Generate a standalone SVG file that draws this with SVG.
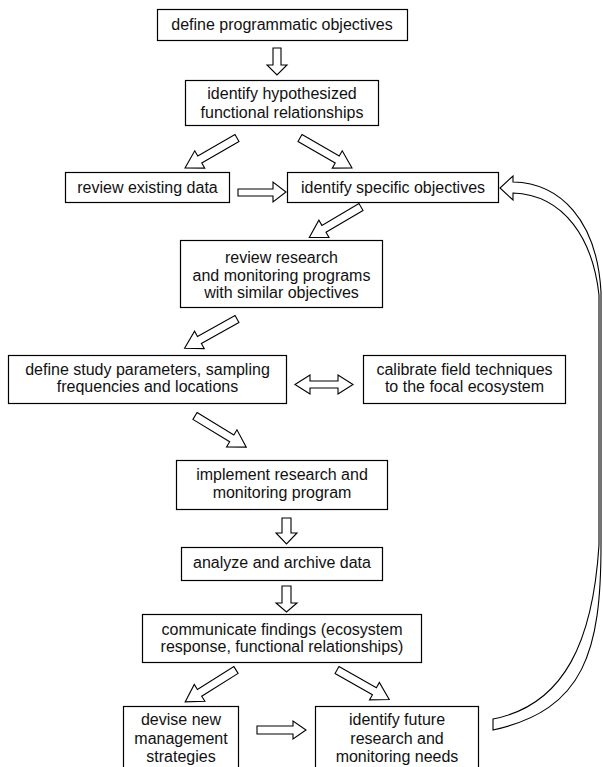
<svg xmlns="http://www.w3.org/2000/svg" xmlns:xlink="http://www.w3.org/1999/xlink" width="603" height="767" viewBox="0 0 603 767">
<style>
.box{fill:#fff;stroke:#000;stroke-width:1.2}
.t{font-family:"Liberation Sans",Arial,sans-serif;font-size:16px;fill:#111;text-anchor:middle}
.arr{fill:#fff;stroke:#000;stroke-width:1.1;stroke-linejoin:miter}
</style>
<defs>
<polygon id="diag" points="0,-4 43,-4 43,-10 60,0 43,10 43,4 0,4"/>
</defs>
<rect width="603" height="767" fill="#fff"/>
<g id="connectors">
<polygon class="arr" points="273,48 281,48 281,65 287,65 277,75 267,65 273,65"/>
<use xlink:href="#diag" class="arr" transform="translate(237,138) rotate(150)"/>
<use xlink:href="#diag" class="arr" transform="translate(300,138) rotate(30)"/>
<polygon class="arr" points="238,189 273,189 273,182 286,192 273,202 273,196 238,196"/>
<use xlink:href="#diag" class="arr" transform="translate(361,207) rotate(149.5)"/>
<use xlink:href="#diag" class="arr" transform="translate(237,319) rotate(150.9)"/>
<polygon class="arr" points="295,384.5 310,375 310,381 338,381 338,375 353,384.5 338,394 338,388 310,388 310,394"/>
<use xlink:href="#diag" class="arr" transform="translate(195,416) rotate(31.3)"/>
<polygon class="arr" points="282,518 291,518 291,533 297,533 286.5,544 276,533 282,533"/>
<polygon class="arr" points="282,586 291,586 291,603 297,603 286.5,612 276,603 282,603"/>
<use xlink:href="#diag" class="arr" transform="translate(236,670) rotate(147.9)"/>
<use xlink:href="#diag" class="arr" transform="translate(337,670) rotate(29.5)"/>
<polygon class="arr" points="257,726 293,726 293,721 306,730 293,739 293,734 257,734"/>
<path class="arr" stroke-width="1.3" d="M513,182 C560,183 597,220 601,292 L601,545 C601,650 585,710 493,730 L493,719 C565,705 593,640 599,545 L599,295 C593,240 565,195 513,193 L513,200 L500,188 L513,176 Z"/>
</g>
<g id="n1"><rect class="box" x="157.5" y="9.5" width="250" height="31"/><text class="t" x="282" y="30">define programmatic objectives</text></g>
<g id="n2"><rect class="box" x="185.5" y="80.5" width="193" height="45"/><text class="t" x="282" y="99">identify hypothesized</text><text class="t" x="282" y="117.5">functional relationships</text></g>
<g id="n3"><rect class="box" x="65.5" y="172.5" width="164" height="30"/><text class="t" x="147.5" y="192.5">review existing data</text></g>
<g id="n4"><rect class="box" x="287.5" y="172.5" width="211" height="30"/><text class="t" x="393" y="192.5">identify specific objectives</text></g>
<g id="n5"><rect class="box" x="180.5" y="240.5" width="202" height="67"/><text class="t" x="281.5" y="262.5">review research</text><text class="t" x="281.5" y="280.5">and monitoring programs</text><text class="t" x="281.5" y="298">with similar objectives</text></g>
<g id="n6"><rect class="box" x="8.5" y="355.5" width="278" height="48"/><text class="t" x="147.5" y="374.5">define study parameters, sampling</text><text class="t" x="147.5" y="392">frequencies and locations</text></g>
<g id="n7"><rect class="box" x="363.5" y="355.5" width="202" height="48"/><text class="t" x="464.5" y="374.5">calibrate field techniques</text><text class="t" x="464.5" y="392">to the focal ecosystem</text></g>
<g id="n8"><rect class="box" x="176.5" y="460.5" width="211" height="49"/><text class="t" x="282" y="480">implement research and</text><text class="t" x="282" y="498">monitoring program</text></g>
<g id="n9"><rect class="box" x="181.5" y="547.5" width="201" height="33"/><text class="t" x="282" y="567.5">analyze and archive data</text></g>
<g id="n10"><rect class="box" x="142.5" y="614.5" width="279" height="48"/><text class="t" x="282" y="634.5">communicate findings (ecosystem</text><text class="t" x="282" y="651.5">response, functional relationships)</text></g>
<g id="n11"><rect class="box" x="123.5" y="706.5" width="115" height="70"/><text class="t" x="181" y="725">devise new</text><text class="t" x="181" y="743.5">management</text><text class="t" x="181" y="762">strategies</text></g>
<g id="n12"><rect class="box" x="315.5" y="706.5" width="163" height="70"/><text class="t" x="397" y="725">identify future</text><text class="t" x="397" y="743.5">research and</text><text class="t" x="397" y="762">monitoring needs</text></g>
</svg>
